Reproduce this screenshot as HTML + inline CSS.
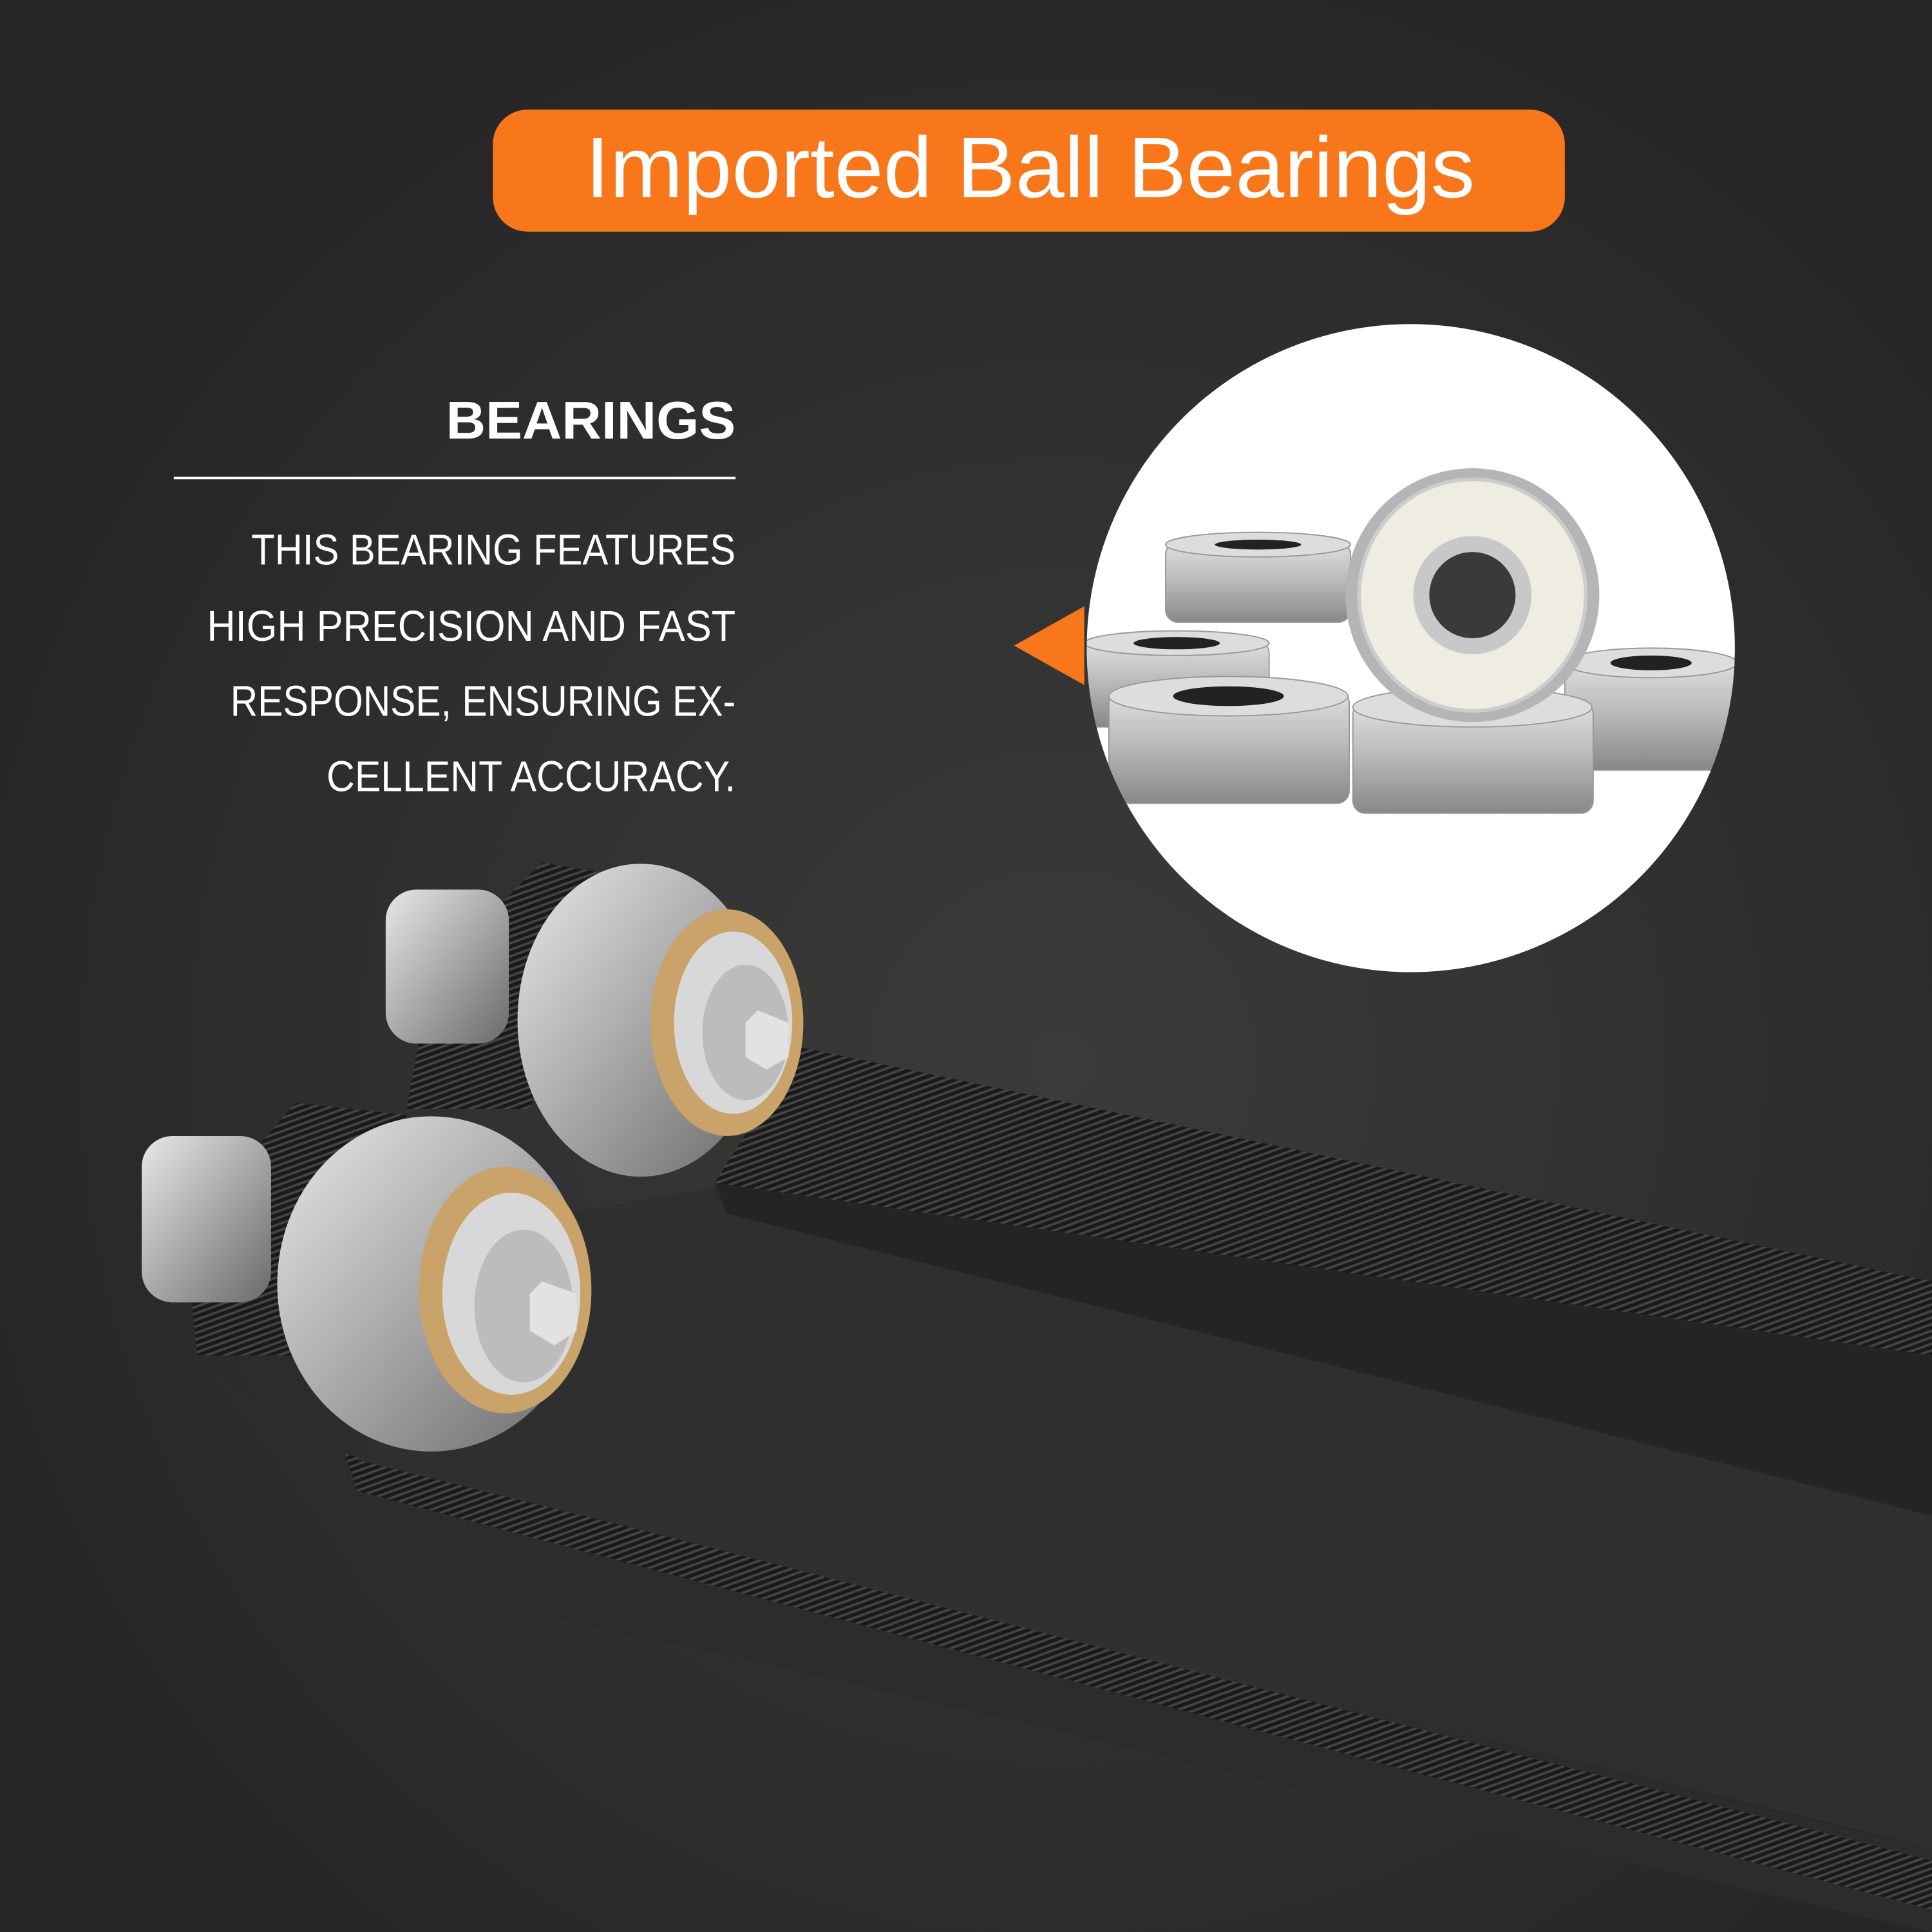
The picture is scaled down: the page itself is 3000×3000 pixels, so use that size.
<!DOCTYPE html>
<html><head><meta charset="utf-8"><style>
html,body{margin:0;padding:0;background:#2b2b2b}
svg{display:block}
</style></head><body>
<svg width="3000" height="3000" viewBox="0 0 1568 1568" xmlns="http://www.w3.org/2000/svg">
<defs>
<radialGradient id="bg" cx="0.55" cy="0.55" r="0.6">
<stop offset="0" stop-color="#3a3c3a"/><stop offset="1" stop-color="#262626"/>
</radialGradient>
<linearGradient id="metal" x1="0" y1="0" x2="1" y2="1">
<stop offset="0" stop-color="#e8e8e8"/><stop offset="0.5" stop-color="#a9a9a9"/><stop offset="1" stop-color="#6a6a6a"/>
</linearGradient>
<linearGradient id="brg" x1="0" y1="0" x2="0" y2="1">
<stop offset="0" stop-color="#e0e0e0"/><stop offset="0.5" stop-color="#b8b8b8"/><stop offset="1" stop-color="#888"/>
</linearGradient>
<pattern id="hatch" width="5" height="5" patternUnits="userSpaceOnUse" patternTransform="rotate(70)">
<rect width="5" height="5" fill="#1a1a1a"/><rect width="2" height="5" fill="#444"/>
</pattern>
<clipPath id="circ"><circle cx="1145" cy="526" r="263"/></clipPath>
</defs>
<rect width="1568" height="1568" fill="url(#bg)"/>

<rect x="400" y="89" width="870" height="99" rx="28" fill="#f7771a"/>
<text x="475" y="160" textLength="722" lengthAdjust="spacingAndGlyphs" font-family="Liberation Sans, sans-serif" font-size="70" fill="#fff">Imported Ball Bearings</text>

<text x="362" y="356" textLength="235" lengthAdjust="spacingAndGlyphs" font-family="Liberation Sans, sans-serif" font-weight="bold" font-size="43" fill="#fff">BEARINGS</text>
<rect x="141" y="387" width="456" height="2" fill="#fff"/>
<g font-family="Liberation Sans, sans-serif" font-size="35" fill="#fff">
<text x="204" y="458" textLength="393" lengthAdjust="spacingAndGlyphs">THIS BEARING FEATURES</text>
<text x="168" y="520" textLength="429" lengthAdjust="spacingAndGlyphs">HIGH PRECISION AND FAST</text>
<text x="187" y="581" textLength="410" lengthAdjust="spacingAndGlyphs">RESPONSE, ENSURING EX-</text>
<text x="265" y="642" textLength="332" lengthAdjust="spacingAndGlyphs">CELLENT ACCURACY.</text>
</g>

<circle cx="1145" cy="526" r="263" fill="#fff"/>
<polygon points="823,524 880,492 880,556" fill="#f7771a"/>
<g clip-path="url(#circ)">
<g fill="url(#brg)" stroke="#999" stroke-width="1">
<rect x="946" y="440" width="150" height="65" rx="10"/><ellipse cx="1021" cy="442" rx="75" ry="10" fill="#ddd"/>
<rect x="880" y="520" width="150" height="70" rx="10"/><ellipse cx="955" cy="522" rx="75" ry="10" fill="#ddd"/>
<rect x="1270" y="535" width="140" height="90" rx="10"/><ellipse cx="1340" cy="538" rx="70" ry="12" fill="#ddd"/>
<rect x="900" y="560" width="195" height="92" rx="10"/><ellipse cx="997" cy="565" rx="97" ry="16" fill="#ddd"/>
<rect x="1098" y="570" width="195" height="90" rx="10"/><ellipse cx="1195" cy="574" rx="97" ry="16" fill="#ddd"/>
</g>
<g fill="#222"><ellipse cx="1021" cy="442" rx="35" ry="4"/><ellipse cx="955" cy="522" rx="35" ry="5"/><ellipse cx="997" cy="565" rx="45" ry="8"/><ellipse cx="1195" cy="574" rx="45" ry="7"/><ellipse cx="1340" cy="538" rx="33" ry="6"/></g>
<ellipse cx="1195" cy="483" rx="103" ry="103" fill="#b5b5b5"/>
<ellipse cx="1195" cy="483" rx="92" ry="94" fill="#efece2" stroke="#ccc" stroke-width="3"/>
<circle cx="1195" cy="483" r="48" fill="#c8c8c8"/>
<circle cx="1195" cy="483" r="35" fill="#3a3a3a"/>
</g>

<polygon points="160,1100 290,1275 1568,1568 1568,1500 290,1205" fill="#2c2c2c"/>
<polygon points="280,1180 1568,1510 1568,1550 290,1210" fill="url(#hatch)"/>
<polygon points="430,990 600,960 1568,1170 1568,1500 290,1185" fill="#2f2f2f"/>
<polygon points="580,960 650,850 1568,1040 1568,1100" fill="url(#hatch)"/>
<polygon points="580,960 1568,1100 1568,1230 590,985" fill="#242424"/>

<polygon points="350,790 440,700 500,710 430,900 330,900" fill="url(#hatch)"/>
<rect x="313" y="722" width="100" height="125" rx="25" fill="url(#metal)"/>
<ellipse cx="520" cy="828" rx="100" ry="127" fill="url(#metal)"/>
<ellipse cx="590" cy="830" rx="62" ry="92" fill="#c9a36a"/>
<ellipse cx="595" cy="830" rx="48" ry="74" fill="#d8d8d8"/>
<ellipse cx="605" cy="838" rx="35" ry="55" fill="#bcbcbc"/>
<polygon points="615,820 640,830 640,858 622,868 605,858 605,830" fill="#e2e2e2"/>

<polygon points="150,1000 240,895 330,905 270,1100 160,1100" fill="url(#hatch)"/>
<rect x="115" y="922" width="105" height="135" rx="25" fill="url(#metal)"/>
<ellipse cx="350" cy="1042" rx="125" ry="136" fill="url(#metal)"/>
<ellipse cx="410" cy="1047" rx="70" ry="100" fill="#c9a36a"/>
<ellipse cx="415" cy="1050" rx="56" ry="82" fill="#d8d8d8"/>
<ellipse cx="425" cy="1060" rx="40" ry="62" fill="#bcbcbc"/>
<polygon points="440,1040 468,1050 468,1080 450,1092 430,1080 430,1050" fill="#e2e2e2"/>
</svg>
</body></html>
